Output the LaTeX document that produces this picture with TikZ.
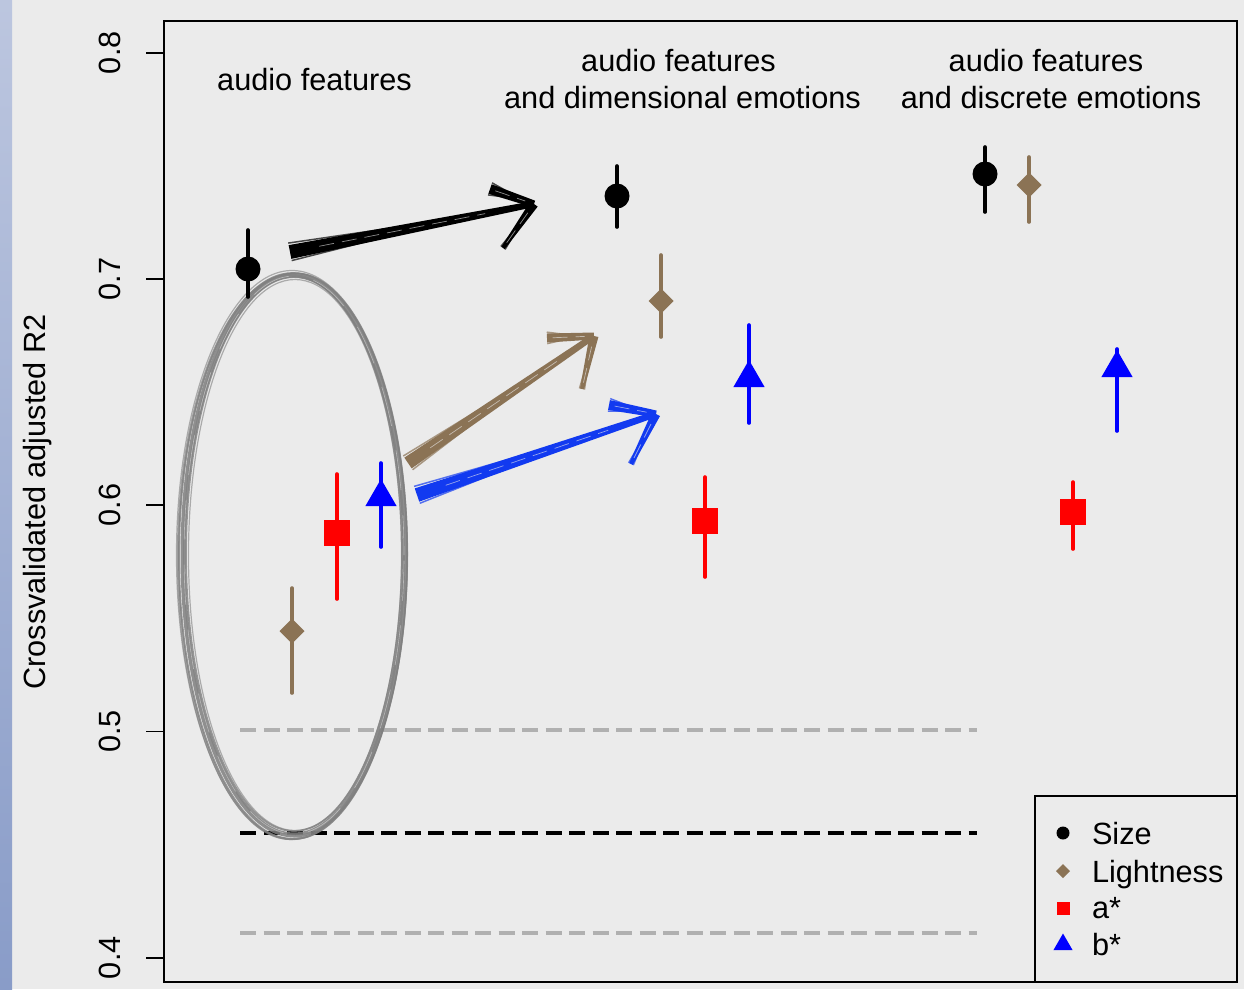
\documentclass[tikz,border=0pt]{standalone}
\usepackage{fontspec}
\setmainfont{Liberation Sans}
\usetikzlibrary{shapes.geometric,calc}

\definecolor{bg}{RGB}{235,235,235}
\definecolor{lightbrown}{RGB}{139,115,85}
\definecolor{stripTop}{RGB}{188,198,223}
\definecolor{stripBot}{RGB}{137,156,200}
\definecolor{penblue}{RGB}{18,58,240}
\definecolor{refgray}{RGB}{176,176,176}
\definecolor{ringgray}{RGB}{128,128,128}

% tapered brush stroke: colour, start, end, start half-width, end half-width
\newcommand\brush[5]{%
  \fill[#1] ($#2!#4!90:#3$) -- ($#3!#5!-90:#2$) -- ($#3!#5!90:#2$) -- ($#2!#4!-90:#3$) -- cycle;
  \draw[#1, line width=1.5pt, opacity=.7] ($#2!1.3*#4!90:#3$) -- ($#2!0.75!#3$);
  \draw[#1, line width=1.5pt, opacity=.7] ($#2!1.25*#4!-90:#3$) -- ($#2!0.65!#3$);
  \draw[bg, line width=.7pt, opacity=.6, dash pattern=on 15pt off 8pt] ($#2!0.12!#3$) -- ($#2!0.8!#3$);
}

\begin{document}
\begin{tikzpicture}[x=1pt,y=-1pt,
  every node/.style={font=\fontsize{30.7}{36}\selectfont, inner sep=0pt, outer sep=0pt},
  errbar/.style={line width=3.6pt, line cap=round},
  ptsize/.style={circle, fill=black, minimum size=25pt},
  ptlight/.style={diamond, fill=lightbrown, minimum width=25pt, minimum height=25pt},
  pta/.style={rectangle, fill=red, minimum size=26pt},
  ptb/.style={regular polygon, regular polygon sides=3, fill=blue, minimum size=36pt},
  refgrayline/.style={refgray, line width=3.4pt, dash pattern=on 16pt off 7.5pt},
  refblackline/.style={black, line width=3.5pt, dash pattern=on 16pt off 7.5pt},
  frame/.style={line width=2pt},
  ticklab/.style={rotate=90, anchor=base},
]
\useasboundingbox (0,0) rectangle (1244,989);
\fill[bg] (0,0) rectangle (1244,989);
\shade[top color=stripTop, bottom color=stripBot] (0,0) rectangle (12,989);

% axis and frame
\draw[frame] (164,21) rectangle (1237,982);
\foreach \y/\v/\n in {957.7/0.4/1, 731.5/0.5/2, 505.2/0.6/3, 279/0.7/4, 52.7/0.8/5} {
  \draw[line width=1.6pt] (146,\y) -- (164,\y);
  \node[ticklab] (tick\n) at (120,\y) {\v};
}
\node[ticklab] (ylab) at (45,502) {Crossvalidated adjusted R2};

% group headings
\node[anchor=base] (g1t) at (314.5,90) {audio features};
\node[anchor=base] (g2t) at (678.5,71) {audio features};
\node[anchor=base] (g2b) at (682.5,108) {and dimensional emotions};
\node[anchor=base] (g3t) at (1046,71) {audio features};
\node[anchor=base] (g3b) at (1051,108) {and discrete emotions};

% reference levels
\draw[refgrayline] (240,730) -- (977,730);
\draw[refblackline] (240,833) -- (977,833);
\draw[refgrayline] (240,933) -- (977,933);

% circled group
\draw[ringgray, line width=5pt, opacity=.85] (294,555) ellipse [x radius=111pt, y radius=280pt];
\foreach \dx/\dy/\r/\w/\o in {-1/1/3/1.8/.8, 0/-1/-3/1.8/.8, -2/0/4.5/1.2/.6, 1/0/-4.5/1.2/.6, -3/2/2/2.2/.7, 1.5/-1/1/1.0/.7}
  \draw[ringgray, line width=\w pt, opacity=\o] (294+\dx,555+\dy) ellipse [x radius={(111+\r)*1pt}, y radius={(280+\r)*1pt}];
\draw[bg, line width=.6pt, opacity=.5, dash pattern=on 40pt off 25pt] (294,555) ellipse [x radius=110pt, y radius=279pt];

% error bars
\draw[errbar, black] (248,230) -- (248,297);
\draw[errbar, lightbrown] (292,588) -- (292,693);
\draw[errbar, red] (337,474) -- (337,599);
\draw[errbar, blue] (381,463) -- (381,547);
\draw[errbar, black] (617,166) -- (617,227);
\draw[errbar, lightbrown] (661,255) -- (661,337);
\draw[errbar, red] (705,477) -- (705,577);
\draw[errbar, blue] (749,325) -- (749,423);
\draw[errbar, black] (985,147) -- (985,212);
\draw[errbar, lightbrown] (1029,157) -- (1029,222);
\draw[errbar, red] (1073,482) -- (1073,549);
\draw[errbar, blue] (1117,349) -- (1117,431);

% estimates
\node[ptsize] (s1) at (248,269) {};
\node[ptlight] (l1) at (292,631) {};
\node[pta] (a1) at (337,533) {};
\node[ptb] (b1) at (381,497) {};
\node[ptsize] (s2) at (617,196) {};
\node[ptlight] (l2) at (661,301) {};
\node[pta] (a2) at (705,521) {};
\node[ptb] (b2) at (749,378) {};
\node[ptsize] (s3) at (985,174) {};
\node[ptlight] (l3) at (1029,185) {};
\node[pta] (a3) at (1073,512) {};
\node[ptb] (b3) at (1117,368) {};

% hand-drawn arrows
\coordinate (ks0) at (290,252);  \coordinate (ks1) at (534,204);
\coordinate (ksh) at (490,189);  \coordinate (ksl) at (503,248);
\brush{black}{(ks0)}{(ks1)}{7pt}{3pt}
\brush{black}{(ksh)}{(ks1)}{5pt}{3.5pt}
\brush{black}{(ksl)}{(ks1)}{2pt}{4.5pt}

\coordinate (kl0) at (408,463);  \coordinate (kl1) at (594,336);
\coordinate (klh) at (547,338);  \coordinate (kll) at (582,389);
\brush{lightbrown}{(kl0)}{(kl1)}{6.5pt}{3pt}
\brush{lightbrown}{(klh)}{(kl1)}{4.5pt}{3.5pt}
\brush{lightbrown}{(kll)}{(kl1)}{2pt}{4.5pt}

\coordinate (kb0) at (417,495);  \coordinate (kb1) at (656,414);
\coordinate (kbh) at (609,405);  \coordinate (kbl) at (631,464);
\brush{penblue}{(kb0)}{(kb1)}{7pt}{3pt}
\brush{penblue}{(kbh)}{(kb1)}{5pt}{3.5pt}
\brush{penblue}{(kbl)}{(kb1)}{2pt}{4.5pt}

% legend
\draw[frame] (1035,796) rectangle (1237,982);
\node[circle, fill=black, minimum size=13pt] (ks) at (1063,833) {};
\node[diamond, fill=lightbrown, minimum width=14pt, minimum height=14pt] (kl) at (1063,871) {};
\node[rectangle, fill=red, minimum size=13pt] (ka) at (1063,908) {};
\node[regular polygon, regular polygon sides=3, fill=blue, minimum size=22pt] (kb) at (1063,944.5) {};
\node[anchor=base west] (ts) at (1092,844) {Size};
\node[anchor=base west] (tl) at (1092,882) {Lightness};
\node[anchor=base west] (ta) at (1092,918) {a*};
\node[anchor=base west] (tb) at (1092,955) {b*};
\end{tikzpicture}
\end{document}
